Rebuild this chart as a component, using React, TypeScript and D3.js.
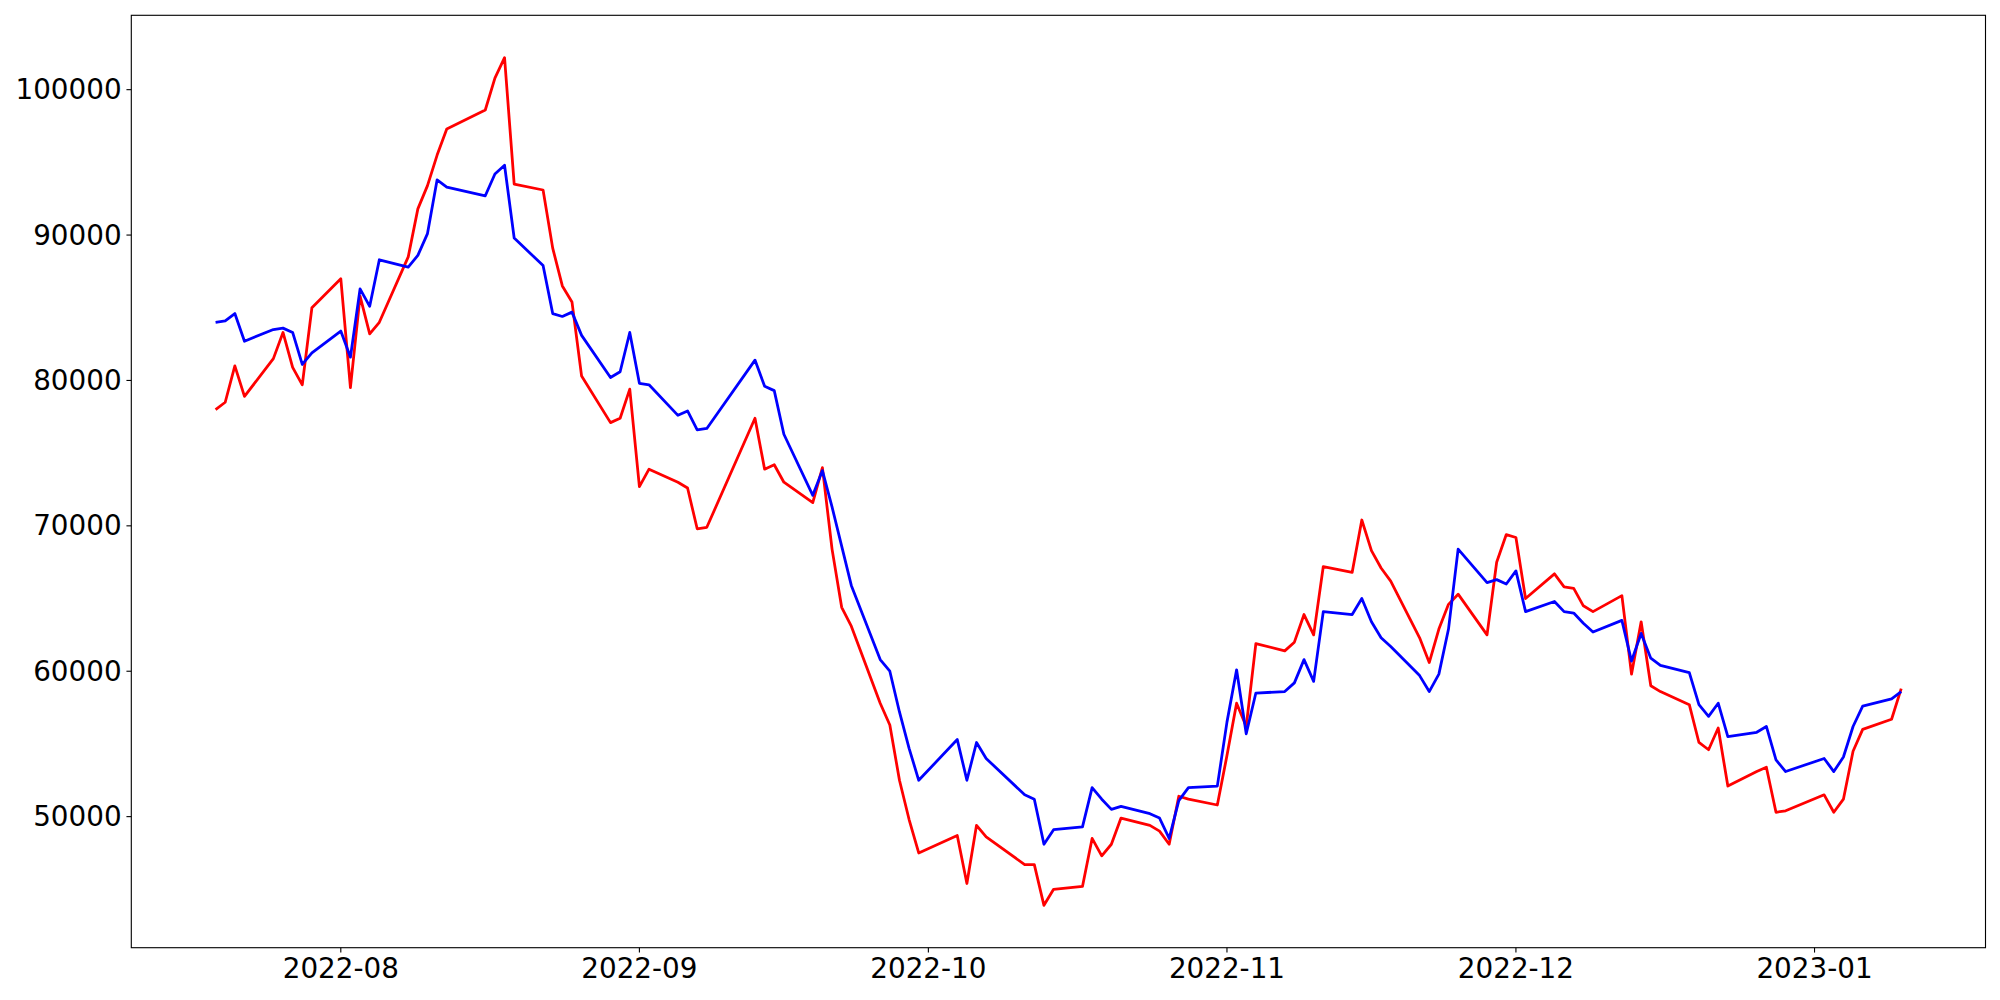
import React from "react";
import * as d3 from "d3";

const dates: string[] = [
  "2022-07-19","2022-07-20","2022-07-21","2022-07-22","2022-07-25","2022-07-26","2022-07-27","2022-07-28","2022-07-29",
  "2022-08-01","2022-08-02","2022-08-03","2022-08-04","2022-08-05","2022-08-08","2022-08-09","2022-08-10","2022-08-11","2022-08-12",
  "2022-08-16","2022-08-17","2022-08-18","2022-08-19","2022-08-22","2022-08-23","2022-08-24","2022-08-25","2022-08-26","2022-08-29","2022-08-30","2022-08-31",
  "2022-09-01","2022-09-02","2022-09-05","2022-09-06","2022-09-07","2022-09-08","2022-09-13","2022-09-14","2022-09-15","2022-09-16",
  "2022-09-19","2022-09-20","2022-09-21","2022-09-22","2022-09-23","2022-09-26","2022-09-27","2022-09-28","2022-09-29","2022-09-30",
  "2022-10-04","2022-10-05","2022-10-06","2022-10-07","2022-10-11","2022-10-12","2022-10-13","2022-10-14",
  "2022-10-17","2022-10-18","2022-10-19","2022-10-20","2022-10-21","2022-10-24","2022-10-25","2022-10-26","2022-10-27","2022-10-28","2022-10-31",
  "2022-11-01","2022-11-02","2022-11-03","2022-11-04","2022-11-07","2022-11-08","2022-11-09","2022-11-10","2022-11-11",
  "2022-11-14","2022-11-15","2022-11-16","2022-11-17","2022-11-18","2022-11-21","2022-11-22","2022-11-23","2022-11-24","2022-11-25",
  "2022-11-28","2022-11-29","2022-11-30",
  "2022-12-01","2022-12-02","2022-12-05","2022-12-06","2022-12-07","2022-12-08","2022-12-09","2022-12-12","2022-12-13","2022-12-14","2022-12-15","2022-12-16",
  "2022-12-19","2022-12-20","2022-12-21","2022-12-22","2022-12-23","2022-12-26","2022-12-27","2022-12-28","2022-12-29",
  "2023-01-02","2023-01-03","2023-01-04","2023-01-05","2023-01-06","2023-01-09","2023-01-10",
];

const blueSeries: number[] = [
  84000, 84100, 84600, 82700, 83500, 83600, 83300, 81100, 81900,
  83400, 81600, 86300, 85100, 88300, 87800, 88600, 90100, 93800, 93300,
  92700, 94200, 94800, 89800, 87900, 84600, 84400, 84700, 83100, 80200, 80600, 83300,
  79800, 79700, 77600, 77900, 76600, 76700, 81400, 79600, 79300, 76300,
  72100, 73800, 71300, 68600, 65900, 60800, 60000, 57200, 54700, 52500,
  55300, 52500, 55100, 54000, 51500, 51200, 48100, 49100,
  49300, 52000, 51200, 50500, 50700, 50200, 49900, 48500, 51100, 52000, 52100,
  56500, 60100, 55700, 58500, 58600, 59200, 60800, 59300, 64100,
  63900, 65000, 63400, 62300, 61700, 59700, 58600, 59800, 62900, 68400,
  66100, 66300, 66000,
  66900, 64100, 64800, 64100, 64000, 63300, 62700, 63500, 60700, 62600, 60900, 60400,
  59900, 57700, 56900, 57800, 55500, 55800, 56200, 53900, 53100,
  54000, 53100, 54100, 56200, 57600, 58100, 58600,
];

const redSeries: number[] = [
  78000, 78500, 81000, 78900, 81500, 83300, 80900, 79700, 85000,
  87000, 79500, 85800, 83200, 84000, 88500, 91800, 93400, 95500, 97300,
  98600, 100800, 102200, 93500, 93100, 89100, 86500, 85400, 80300, 77100, 77400, 79400,
  72700, 73900, 73000, 72600, 69800, 69900, 77400, 73900, 74200, 73000,
  71600, 74000, 68400, 64400, 63100, 57800, 56300, 52500, 49800, 47500,
  48700, 45400, 49400, 48600, 46700, 46700, 43900, 45000,
  45200, 48500, 47300, 48100, 49900, 49400, 49000, 48100, 51400, 51200, 50800,
  54200, 57800, 56200, 61900, 61400, 62000, 63900, 62500, 67200,
  66800, 70400, 68300, 67100, 66200, 62300, 60600, 62900, 64600, 65300,
  62500, 67500, 69400,
  69200, 65000, 66700, 65800, 65700, 64500, 64100, 65200, 59800, 63400, 59000, 58600,
  57700, 55100, 54600, 56100, 52100, 53100, 53400, 50300, 50400,
  51500, 50300, 51200, 54500, 56000, 56700, 58800,
];

const yTicks: number[] = [50000, 60000, 70000, 80000, 90000, 100000];
const xTickLabels: string[] = ["2022-08", "2022-09", "2022-10", "2022-11", "2022-12", "2023-01"];

const W = 2000;
const H = 1000;
const left = 131.3;
const right = 1985.5;
const top = 15.3;
const bottom = 947.7;
const FONT = "'DejaVu Sans', sans-serif";
const FS = 27.8;
const TICK = 4.86;
const PAD = 4.86;

export default function App() {
  const parse = d3.utcParse("%Y-%m-%d");
  const parseMonth = d3.utcParse("%Y-%m");
  const xs = dates.map((d) => parse(d) as Date);
  const t0 = +xs[0];
  const t1 = +xs[xs.length - 1];
  const dt = (t1 - t0) * 0.05;
  const x = d3.scaleUtc().domain([new Date(t0 - dt), new Date(t1 + dt)]).range([left, right]);

  const all = blueSeries.concat(redSeries);
  const ymin = d3.min(all) as number;
  const ymax = d3.max(all) as number;
  const dy = (ymax - ymin) * 0.05;
  const y = d3.scaleLinear().domain([ymin - dy, ymax + dy]).range([bottom, top]);

  const line = d3
    .line<number>()
    .x((_, i) => x(xs[i]))
    .y((v) => y(v));

  const xTicks = xTickLabels.map((s) => parseMonth(s) as Date);

  return (
    <svg
      width={W}
      height={H}
      style={{ position: "absolute", left: 0, top: 0, background: "#fff" }}
      xmlns="http://www.w3.org/2000/svg"
    >
      <rect x={0} y={0} width={W} height={H} fill="#fff" />
      <path
        d={line(redSeries) || ""}
        fill="none"
        stroke="#ff0000"
        strokeWidth={2.78}
        strokeLinejoin="round"
      />
      <path
        d={line(blueSeries) || ""}
        fill="none"
        stroke="#0000ff"
        strokeWidth={2.78}
        strokeLinejoin="round"
      />
      <rect
        x={left}
        y={top}
        width={right - left}
        height={bottom - top}
        fill="none"
        stroke="#000"
        strokeWidth={1.11}
      />
      {yTicks.map((v) => (
        <g key={v}>
          <line x1={left - TICK} x2={left} y1={y(v)} y2={y(v)} stroke="#000" strokeWidth={1.11} />
          <text
            x={left - TICK - PAD}
            y={y(v)}
            textAnchor="end"
            dominantBaseline="central"
            fontFamily={FONT}
            fontSize={FS}
            fill="#000"
          >
            {String(v)}
          </text>
        </g>
      ))}
      {xTicks.map((d, i) => (
        <g key={i}>
          <line x1={x(d)} x2={x(d)} y1={bottom} y2={bottom + TICK} stroke="#000" strokeWidth={1.11} />
          <text
            x={x(d)}
            y={bottom + TICK + PAD}
            textAnchor="middle"
            dominantBaseline="hanging"
            fontFamily={FONT}
            fontSize={FS}
            fill="#000"
          >
            {d3.utcFormat("%Y-%m")(d)}
          </text>
        </g>
      ))}
    </svg>
  );
}
